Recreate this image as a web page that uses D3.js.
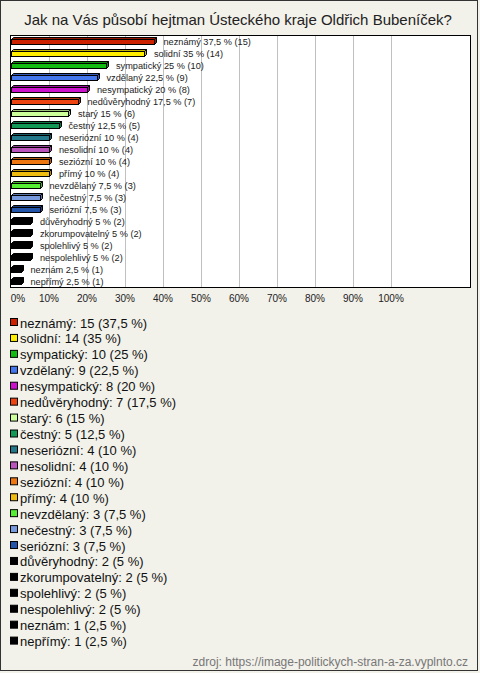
<!DOCTYPE html>
<html><head><meta charset="utf-8">
<script src="https://cdn.jsdelivr.net/npm/d3@7"></script>
<style>body{margin:0;background:#f2f1ea}svg{display:block}</style>
</head><body>
<script>
const titleText = "Jak na Vás působí hejtman Ústeckého kraje Oldřich Bubeníček?";
const categories = ["neznámý","solidní","sympatický","vzdělaný","nesympatický","nedůvěryhodný","starý","čestný","neseriózní","nesolidní","seziózní","přímý","nevzdělaný","nečestný","seriózní","důvěryhodný","zkorumpovatelný","spolehlivý","nespolehlivý","neznám","nepřímý"];
const counts = [15,14,10,9,8,7,6,5,4,4,4,4,3,3,3,2,2,2,2,1,1];
const percents = [37.5,35,25,22.5,20,17.5,15,12.5,10,10,10,10,7.5,7.5,7.5,5,5,5,5,2.5,2.5];
const colors = ["#cc2200","#ffee00","#11bb11","#4477ee","#cc11cc","#ee4411","#ccff99","#119955","#227788","#bb55bb","#ee7711","#eebb11","#55ee33","#7799dd","#2255aa","#000000","#000000","#000000","#000000","#000000","#000000"];
const tickValues = [0,10,20,30,40,50,60,70,80,90,100];
const sourceText = "zdroj: https://image-politickych-stran-a-za.vyplnto.cz";

const W = 480, H = 673;
const fmt = v => String(v).replace(".", ",");
const svg = d3.select("body").append("svg").attr("width", W).attr("height", H)
  .style("font-family", "Arial, 'Liberation Sans', sans-serif");

svg.append("rect").attr("x", 0).attr("y", 0).attr("width", W).attr("height", H).attr("fill", "#f2f1ea");
svg.append("rect").attr("x", 0.5).attr("y", 0.5).attr("width", 477).attr("height", 670)
  .attr("fill", "none").attr("stroke", "#333");

svg.append("text").attr("x", 238).attr("y", 25).attr("text-anchor", "middle")
  .attr("font-size", 15).attr("fill", "#222").text(titleText);

const plot = {left: 10, top: 35, right: 470, bottom: 287};
const x = d3.scaleLinear().domain([0, 100]).range([11, 391]);
const y = d3.scaleBand().domain(categories).range([plot.top, plot.bottom]);

svg.append("rect").attr("x", plot.left + 0.5).attr("y", plot.top + 0.5)
  .attr("width", plot.right - plot.left).attr("height", plot.bottom - plot.top)
  .attr("fill", "#fff");

svg.append("g").selectAll("line").data(tickValues.filter(t => t > 0)).join("line")
  .attr("x1", d => Math.round(x(d)) + 0.5).attr("x2", d => Math.round(x(d)) + 0.5)
  .attr("y1", plot.top).attr("y2", plot.bottom).attr("stroke", "#c0c0c0");

svg.append("rect").attr("x", plot.left + 0.5).attr("y", plot.top + 0.5)
  .attr("width", plot.right - plot.left).attr("height", plot.bottom - plot.top)
  .attr("fill", "none").attr("stroke", "#000");

const data = categories.map((c, i) => ({c, n: counts[i], p: percents[i], col: colors[i]}));
const bars = svg.append("g").selectAll("g").data(data).join("g");
bars.each(function(d) {
  const g = d3.select(this);
  const x0 = x(0) + 0.5, x1 = Math.round(x(d.p)) + 0.5;
  const yc = Math.round(y(d.c) + y.bandwidth() / 2);
  const top = yc - 1.5, bot = yc + 3.5, dx = 2, dy = 2;
  const dark = d3.color(d.col).darker(0.8);
  g.append("path").attr("d", `M${x0},${top}L${x0+dx},${top-dy}L${x1+dx},${top-dy}L${x1},${top}Z`)
    .attr("fill", dark).attr("stroke", "#000");
  g.append("path").attr("d", `M${x1},${top}L${x1+dx},${top-dy}L${x1+dx},${bot-dy}L${x1},${bot}Z`)
    .attr("fill", dark).attr("stroke", "#000");
  g.append("rect").attr("x", x0).attr("y", top).attr("width", x1 - x0).attr("height", bot - top)
    .attr("fill", d.col).attr("stroke", "#000");
  g.append("text").attr("x", x(d.p) + 10).attr("y", yc + 3.5)
    .attr("font-size", 9.2).attr("fill", "#222")
    .text(`${d.c} ${fmt(d.p)} % (${d.n})`);
});

svg.append("g").selectAll("text").data(tickValues).join("text")
  .attr("x", d => d === 0 ? x(d) + 7 : x(d)).attr("y", 302)
  .attr("text-anchor", "middle").attr("font-size", 10).attr("fill", "#222")
  .text(d => d + "%");

const leg = svg.append("g").selectAll("g").data(data).join("g")
  .attr("transform", (d, i) => `translate(0,${323 + i * 15.93})`);
leg.append("rect").attr("x", 10.5).attr("y", -4.5).attr("width", 7).attr("height", 7)
  .attr("fill", d => d.col).attr("stroke", "#000");
leg.append("text").attr("x", 20).attr("y", 4.5).attr("font-size", 13).attr("fill", "#111")
  .text(d => `${d.c}: ${d.n} (${fmt(d.p)} %)`);

svg.append("text").attr("x", 468).attr("y", 666).attr("text-anchor", "end")
  .attr("font-size", 12).attr("fill", "#777").text(sourceText);
</script>
</body></html>
